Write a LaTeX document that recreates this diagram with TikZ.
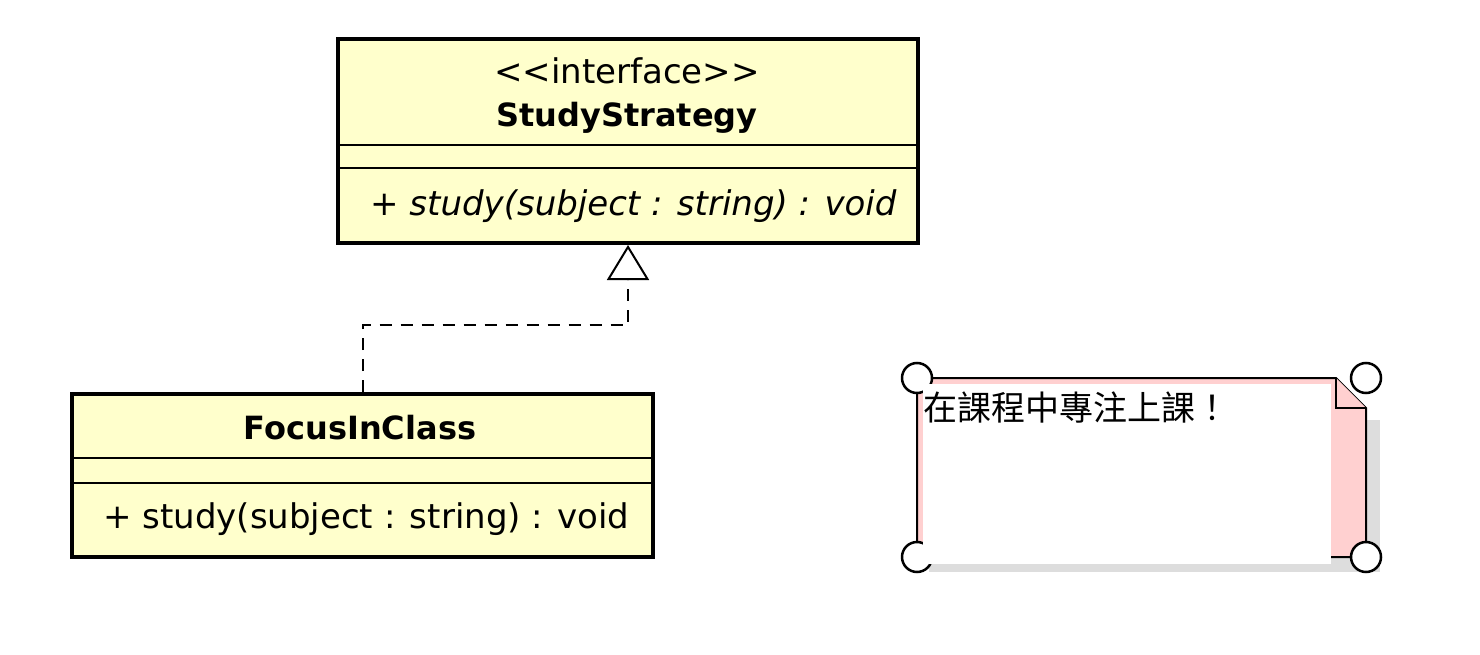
\documentclass[tikz,border=0pt]{standalone}
\usepackage{fontspec}
\setmainfont{DejaVu Sans}
\newfontfamily\cjk{Noto Sans CJK TC}
\usetikzlibrary{arrows.meta}
\definecolor{classfill}{HTML}{FFFFCC}
\definecolor{notepink}{HTML}{FFD0D0}
\definecolor{shadowgray}{HTML}{DDDDDD}
\begin{document}
\begin{tikzpicture}[x=1pt,y=-1pt,
  classbox/.style={draw, line width=4pt, fill=classfill, inner sep=0pt},
  divider/.style={line width=2pt},
  txt/.style={inner sep=0pt, anchor=base, font=\fontsize{34}{40}\selectfont},
  boldtxt/.style={inner sep=0pt, anchor=base, font=\fontsize{32}{40}\selectfont\bfseries},
  ittxt/.style={inner sep=0pt, anchor=base west, font=\fontsize{34}{40}\selectfont\itshape},
  cjktxt/.style={inner sep=0pt, anchor=base west, font=\fontsize{34}{40}\selectfont\cjk},
  realize/.style={line width=2pt, dash pattern=on 12pt off 9pt,
    -{Triangle[open, length=35pt, width=42pt, line width=2pt]}},
  noteline/.style={line width=2pt},
  handle/.style={line width=2.5pt, draw, fill=white}
]
\path[use as bounding box, fill=white] (0,0) rectangle (1480,655);

% interface StudyStrategy
\node[classbox, minimum width=580pt, minimum height=204pt] (ss) at (628,141) {};
\draw[divider] (ss.west |- 0,145) -- (ss.east |- 0,145);
\draw[divider] (ss.west |- 0,168) -- (ss.east |- 0,168);
\node[txt] (ssstereo) at (627,84) {{<}{<}interface{>}{>}};
\node[boldtxt] (ssname) at (627,127) {StudyStrategy};
\node[ittxt] (ssop) at (370,215) {+ study(subject : string) : void};

% class FocusInClass
\node[classbox, minimum width=581pt, minimum height=163pt] (fic) at (362.5,475.5) {};
\draw[divider] (fic.west |- 0,458) -- (fic.east |- 0,458);
\draw[divider] (fic.west |- 0,483) -- (fic.east |- 0,483);
\node[boldtxt] (ficname) at (360,439) {FocusInClass};
\node[txt, anchor=base west] (ficop) at (103,528) {+ study(subject : string) : void};

% realization
\draw[realize] (fic.north) -- ++(0,-67) -| (ss.south);

% note
\fill[shadowgray] (929,420) rectangle (1380,572);
\fill[notepink] (917,378) -- (1336,378) -- (1366,408) -- (1366,557) -- (917,557) -- cycle;
\draw[noteline] (917,557) -- (917,378) -- (1336,378) -- (1366,408) -- (1366,557) -- (1331,557);
\draw[noteline, fill=notepink] (1336,378) -- (1336,408) -- (1366,408);
\draw[handle] (917,378) circle (15pt);
\draw[handle] (1366,378) circle (15pt);
\draw[handle] (917,557) circle (15pt);
\draw[handle] (1366,557) circle (15pt);
\fill[white] (923,384) rectangle (1331,564);
\node[cjktxt] (notetext) at (923,420) {在課程中專注上課！};
\end{tikzpicture}
\end{document}
